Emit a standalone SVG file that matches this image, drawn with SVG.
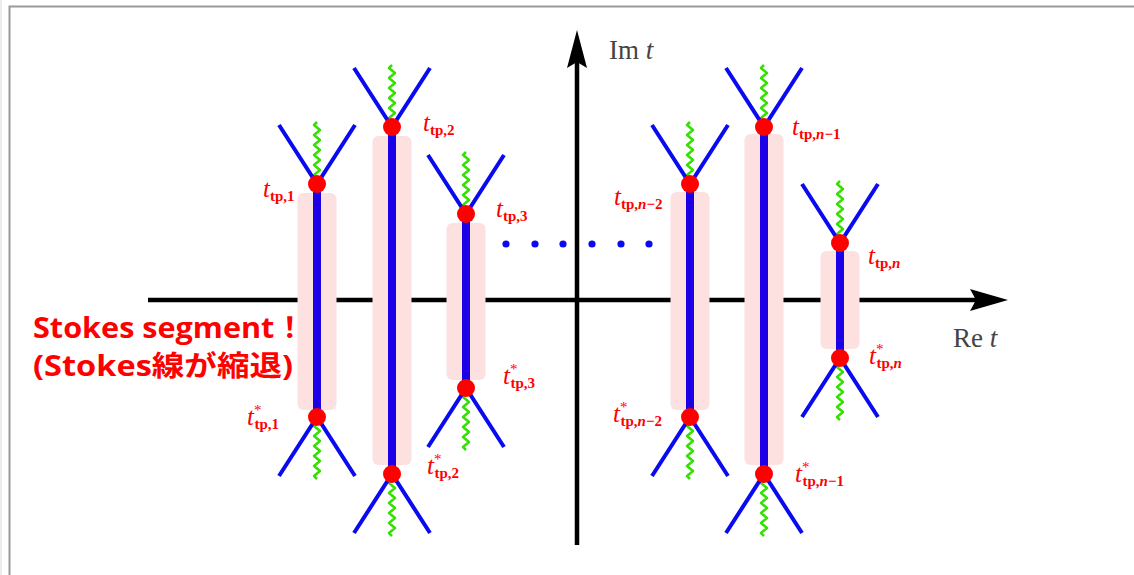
<svg xmlns="http://www.w3.org/2000/svg" xmlns:xlink="http://www.w3.org/1999/xlink" width="1134" height="575" viewBox="0 0 1134 575">
<style>
.seg{fill:#fde0e0;}
.vl{stroke:#1c00e6;stroke-width:8;}
.br{stroke:#0a0af0;stroke-width:4;fill:none;}
.wg{stroke:#33e000;stroke-width:2.5;fill:none;stroke-linejoin:round;}
.tp{fill:#ff0000;}
.lbl{font-family:"Liberation Serif","DejaVu Serif",serif;fill:#ff0000;font-size:25px;}
.lbl .t{font-style:italic;}
.lbl .s{font-size:15px;font-weight:bold;}
.lbl .st{font-size:15px;}
.ax{stroke:#000;stroke-width:4.5;}
.axl{font-family:"Liberation Serif","DejaVu Serif",serif;fill:#444;font-size:27px;}
.note{font-family:"Open Sans","Noto Sans","Noto Sans CJK JP",sans-serif;font-weight:bold;fill:#ff0000;font-size:28px;}
</style>
<defs>
<g id="vtop">
<path class="wg" d="M0,0 l3,-4 l-6,-5 l6,-5 l-6,-5 l6,-5 l-6,-5 l6,-5 l-6,-5 l6,-5 l-6,-5 l6,-5 l-6,-5 l3,-3"/>
<path class="br" d="M-38,-59 L0,0 L38,-59"/>
</g>
<g id="vbot" transform="scale(1,-1)"><use xlink:href="#vtop"/></g>
</defs>
<rect x="0" y="0" width="1134" height="575" fill="#fff"/>
<line x1="1" y1="0" x2="1" y2="575" stroke="#e6e6e6" stroke-width="1.5"/>
<path d="M9.5,575 V6.5 H1134" fill="none" stroke="#9a9a9a" stroke-width="2"/>

<g id="axes">
<line class="ax" x1="148" y1="300" x2="976" y2="300"/>
<polygon points="1008,300 970,289 976,300 970,311" fill="#000"/>
<line class="ax" x1="577" y1="545" x2="577" y2="62"/>
<polygon points="577,30 567,68 577,62 587,68" fill="#000"/>
<text class="axl" x="609" y="59">Im <tspan font-style="italic">t</tspan></text>
<text class="axl" x="953" y="347">Re <tspan font-style="italic">t</tspan></text>
</g>

<g id="dots" fill="#0a0af0">
<circle cx="506" cy="244" r="3.6"/><circle cx="535" cy="244" r="3.6"/><circle cx="563" cy="244" r="3.6"/>
<circle cx="592" cy="244" r="3.6"/><circle cx="621" cy="244" r="3.6"/><circle cx="649" cy="244" r="3.6"/>
</g>

<g id="tp1">
<rect class="seg" x="297.5" y="193" width="39" height="217" rx="6"/>
<line class="vl" x1="317" y1="184" x2="317" y2="417"/>
<use xlink:href="#vtop" x="317" y="184"/>
<use xlink:href="#vbot" transform="translate(317,417)"/>
<circle class="tp" cx="317" cy="184" r="9"/><circle class="tp" cx="317" cy="417" r="9"/>
<text class="lbl" x="263" y="197"><tspan class="t">t</tspan><tspan class="s" dy="4">tp,1</tspan></text>
<text class="lbl" x="247" y="425"><tspan class="t">t</tspan><tspan class="st" dy="-10">*</tspan><tspan class="s" dx="-7" dy="14">tp,1</tspan></text>
</g>

<g id="tp2">
<rect class="seg" x="372.5" y="136" width="39" height="329" rx="6"/>
<line class="vl" x1="392" y1="127" x2="392" y2="474"/>
<use xlink:href="#vtop" x="392" y="127"/>
<use xlink:href="#vbot" transform="translate(392,474)"/>
<circle class="tp" cx="392" cy="127" r="9"/><circle class="tp" cx="392" cy="474" r="9"/>
<text class="lbl" x="423" y="131"><tspan class="t">t</tspan><tspan class="s" dy="4">tp,2</tspan></text>
<text class="lbl" x="427" y="474"><tspan class="t">t</tspan><tspan class="st" dy="-10">*</tspan><tspan class="s" dx="-7" dy="14">tp,2</tspan></text>
</g>

<g id="tp3">
<rect class="seg" x="446.5" y="223" width="39" height="157" rx="6"/>
<line class="vl" x1="466" y1="214" x2="466" y2="388"/>
<use xlink:href="#vtop" x="466" y="214"/>
<use xlink:href="#vbot" transform="translate(466,388)"/>
<circle class="tp" cx="466" cy="214" r="9"/><circle class="tp" cx="466" cy="388" r="9"/>
<text class="lbl" x="496" y="217"><tspan class="t">t</tspan><tspan class="s" dy="4">tp,3</tspan></text>
<text class="lbl" x="503" y="384"><tspan class="t">t</tspan><tspan class="st" dy="-10">*</tspan><tspan class="s" dx="-7" dy="14">tp,3</tspan></text>
</g>

<g id="tpn2">
<rect class="seg" x="670.5" y="192" width="39" height="218" rx="6"/>
<line class="vl" x1="690" y1="184" x2="690" y2="417"/>
<use xlink:href="#vtop" x="690" y="184"/>
<use xlink:href="#vbot" transform="translate(690,417)"/>
<circle class="tp" cx="690" cy="184" r="9"/><circle class="tp" cx="690" cy="417" r="9"/>
<text class="lbl" x="614" y="205"><tspan class="t">t</tspan><tspan class="s" dy="4">tp,<tspan font-style="italic">n</tspan>−2</tspan></text>
<text class="lbl" x="613" y="422"><tspan class="t">t</tspan><tspan class="st" dy="-10">*</tspan><tspan class="s" dx="-7" dy="14">tp,<tspan font-style="italic">n</tspan>−2</tspan></text>
</g>

<g id="tpn1">
<rect class="seg" x="744.5" y="134" width="39" height="331" rx="6"/>
<line class="vl" x1="764" y1="127" x2="764" y2="474"/>
<use xlink:href="#vtop" x="764" y="127"/>
<use xlink:href="#vbot" transform="translate(764,474)"/>
<circle class="tp" cx="764" cy="127" r="9"/><circle class="tp" cx="764" cy="474" r="9"/>
<text class="lbl" x="792" y="135"><tspan class="t">t</tspan><tspan class="s" dy="4">tp,<tspan font-style="italic">n</tspan>−1</tspan></text>
<text class="lbl" x="795" y="482"><tspan class="t">t</tspan><tspan class="st" dy="-10">*</tspan><tspan class="s" dx="-7" dy="14">tp,<tspan font-style="italic">n</tspan>−1</tspan></text>
</g>

<g id="tpn">
<rect class="seg" x="820.5" y="251" width="39" height="98" rx="6"/>
<line class="vl" x1="840" y1="243" x2="840" y2="358"/>
<use xlink:href="#vtop" x="840" y="243"/>
<use xlink:href="#vbot" transform="translate(840,358)"/>
<circle class="tp" cx="840" cy="243" r="9"/><circle class="tp" cx="840" cy="358" r="9"/>
<text class="lbl" x="868" y="264"><tspan class="t">t</tspan><tspan class="s" dy="4">tp,<tspan font-style="italic">n</tspan></tspan></text>
<text class="lbl" x="869" y="364"><tspan class="t">t</tspan><tspan class="st" dy="-10">*</tspan><tspan class="s" dx="-7" dy="14">tp,<tspan font-style="italic">n</tspan></tspan></text>
</g>

<g id="note">
<text class="note" x="33" y="338" textLength="272" lengthAdjust="spacingAndGlyphs">Stokes segment！</text>
<text class="note" x="33" y="376" textLength="260" lengthAdjust="spacingAndGlyphs">(Stokes線が縮退)</text>
</g>
</svg>
